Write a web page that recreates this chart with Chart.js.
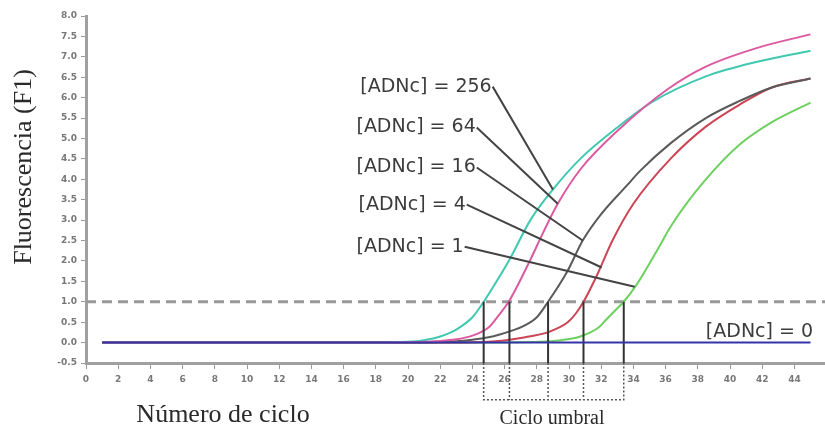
<!DOCTYPE html>
<html>
<head>
<meta charset="utf-8">
<script src="https://cdn.jsdelivr.net/npm/chart.js@4"></script>
<style>
  html, body { margin: 0; padding: 0; background: #fff; }
</style>
</head>
<body>
<canvas id="chart" width="825" height="430"></canvas>
<script>
// curves: cycle -> fluorescence
const cycles256 = [1, 18, 20, 21, 22, 23, 24, 24.7, 25.5, 26.3, 27.6, 29, 30.7, 33.1, 35.2, 38.5, 41.7, 45];
const fluo256   = [0, 0, 0.02, 0.06, 0.15, 0.32, 0.62, 1.0, 1.5, 2.03, 3.0, 3.75, 4.5, 5.3, 5.9, 6.52, 6.88, 7.15];

const cycles64 = [1, 17, 20, 22, 23, 24, 25, 25.5, 26.3, 27.6, 28.4, 29.3, 30.7, 33.1, 36.1, 38.5, 41.7, 45];
const fluo64   = [0, 0, 0.01, 0.04, 0.08, 0.17, 0.37, 0.6, 1.03, 2.03, 2.7, 3.4, 4.24, 5.22, 6.2, 6.76, 7.22, 7.55];

const cycles16 = [1, 20, 23, 24, 25, 25.7, 26.5, 27.1, 28, 28.7, 29.9, 30.85, 31.9, 33.6, 34.4, 36.3, 38.5, 40.6, 42.6, 45];
const fluo16   = [0, 0, 0.03, 0.07, 0.13, 0.2, 0.3, 0.39, 0.62, 1.0, 1.75, 2.5, 3.1, 3.85, 4.2, 4.88, 5.5, 5.92, 6.25, 6.47];

const cycles4 = [1, 22, 25, 27.1, 28.8, 29.9, 30.4, 30.9, 31.7, 32.7, 34, 36.3, 38.5, 40.6, 42.6, 45];
const fluo4   = [0, 0, 0.02, 0.12, 0.27, 0.49, 0.7, 1.0, 1.62, 2.5, 3.4, 4.5, 5.29, 5.83, 6.25, 6.47];

const cycles1 = [1, 24, 28.2, 29.5, 30.7, 31.9, 32.3, 32.9, 33.4, 34.2, 35.6, 36.25, 37.1, 38.5, 40.6, 42.6, 45];
const fluo1   = [0, 0, 0.02, 0.06, 0.15, 0.39, 0.56, 0.8, 1.0, 1.42, 2.35, 2.8, 3.3, 4.0, 4.85, 5.4, 5.88];

const cycles0 = [1, 45];
const fluo0   = [0, 0];

const threshold = 1.0;
const ctCycles = [24.7, 26.3, 28.7, 30.9, 33.4];

// labels and their leader lines (start at text, end on curve)
const labelNames  = ['256', '64', '16', '4', '1'];
const leaderFromX = [25.26, 24.27, 24.27, 23.65, 23.52];
const leaderFromY = [6.27, 5.27, 4.29, 3.38, 2.35];
const leaderToX   = [29.0, 29.3, 30.85, 32.03, 34.08];
const leaderToY   = [3.75, 3.4, 2.5, 1.84, 1.37];

const xTickValues = [0, 2, 4, 6, 8, 10, 12, 14, 16, 18, 20, 22, 24, 26, 28, 30, 32, 34, 36, 38, 40, 42, 44];
const yTicksMin = -0.5, yTicksMax = 8.0, yStep = 0.5;
const xMin = 0, xMax = 45.9;

function pts(xs, ys) {
    return xs.map((x, i) => ({x: x, y: ys[i]}));
}

function curve(xs, ys, color) {
    return {
        data: pts(xs, ys),
        borderColor: color,
        borderWidth: 2,
        pointRadius: 0,
        cubicInterpolationMode: 'monotone'
    };
}

// vertical Ct lines from the threshold to the axis
const ctLines = [];
ctCycles.forEach(c => {
    ctLines.push({x: c, y: threshold}, {x: c, y: yTicksMin}, {x: c, y: null});
});

// dotted box below the axis
const boxBottom = -1.4;
const first = ctCycles[0], last = ctCycles[ctCycles.length - 1];
const boxLines = [
    {x: first, y: yTicksMin}, {x: first, y: boxBottom}, {x: last, y: boxBottom}, {x: last, y: yTicksMin}, {x: last, y: null}
];
ctCycles.slice(1, -1).forEach(c => {
    boxLines.push({x: c, y: yTicksMin}, {x: c, y: boxBottom}, {x: c, y: null});
});

const leaders = [];
labelNames.forEach((n, i) => {
    leaders.push({x: leaderFromX[i], y: leaderFromY[i]}, {x: leaderToX[i], y: leaderToY[i]}, {x: leaderToX[i], y: null});
});

const texts = {
    id: 'texts',
    afterDatasetsDraw(chart) {
        const ctx = chart.ctx;
        const x = chart.scales.x, y = chart.scales.y;
        ctx.save();
        ctx.fillStyle = '#3c3c3c';
        ctx.font = '19px "DejaVu Sans"';
        ctx.textBaseline = 'middle';
        ctx.textAlign = 'right';
        labelNames.forEach((n, i) => {
            ctx.fillText('[ADNc] = ' + n, x.getPixelForValue(leaderFromX[i]) - 1, y.getPixelForValue(leaderFromY[i]));
        });
        ctx.textAlign = 'left';
        ctx.fillText('[ADNc] = 0', x.getPixelForValue(38.5), y.getPixelForValue(0.27));

        ctx.fillStyle = '#2a2a2a';
        ctx.font = '26px "Liberation Serif"';
        ctx.textAlign = 'center';
        ctx.fillText('Número de ciclo', 223, 415);
        ctx.font = '20px "Liberation Serif"';
        ctx.fillText('Ciclo umbral', 552, 419);

        ctx.translate(24, 167);
        ctx.rotate(-Math.PI / 2);
        ctx.font = '26px "Liberation Serif"';
        ctx.fillText('Fluorescencia (F1)', 0, 0);
        ctx.restore();
    }
};

new Chart(document.getElementById('chart'), {
    type: 'line',
    data: {
        datasets: [
            curve(cycles0, fluo0, '#3434a8'),
            {
                data: ctLines, borderColor: '#333', borderWidth: 2, pointRadius: 0, spanGaps: false
            },
            {
                data: leaders, borderColor: '#444', borderWidth: 2, pointRadius: 0, spanGaps: false
            },
            {
                data: boxLines, borderColor: '#555', borderWidth: 1.5, borderDash: [2, 2],
                pointRadius: 0, spanGaps: false, clip: false
            },
            curve(cycles64, fluo64, '#dc5aa0'),
            curve(cycles256, fluo256, '#40c8b0'),
            curve(cycles16, fluo16, '#5a5a5a'),
            curve(cycles4, fluo4, '#cc4455'),
            curve(cycles1, fluo1, '#6ed060'),
            {
                data: pts([xMin, xMax], [threshold, threshold]),
                borderColor: '#999', borderWidth: 3, borderDash: [10, 6], pointRadius: 0
            }
        ]
    },
    options: {
        responsive: false,
        animation: false,
        layout: { padding: { top: 16, right: 0, bottom: 0, left: 0 } },
        plugins: { legend: { display: false }, tooltip: { enabled: false } },
        scales: {
            x: {
                type: 'linear',
                min: xMin,
                max: xMax,
                afterFit: s => { s.height = 67; },
                afterBuildTicks: s => { s.ticks = xTickValues.map(v => ({value: v})); },
                border: { color: '#a0a0a0', width: 3 },
                grid: { drawOnChartArea: false, tickLength: 6, color: '#999' },
                ticks: { padding: 5, color: '#777', font: { family: 'DejaVu Sans', size: 9, weight: 'bold' } }
            },
            y: {
                min: yTicksMin,
                max: yTicksMax,
                afterFit: s => { s.width = 86; },
                border: { color: '#a0a0a0', width: 3 },
                grid: { drawOnChartArea: false, tickLength: 5, color: '#999' },
                ticks: {
                    stepSize: yStep, padding: 4, color: '#777',
                    font: { family: 'DejaVu Sans', size: 9, weight: 'bold' },
                    callback: v => v.toFixed(1)
                }
            }
        }
    },
    plugins: [texts]
});
</script>
</body>
</html>
